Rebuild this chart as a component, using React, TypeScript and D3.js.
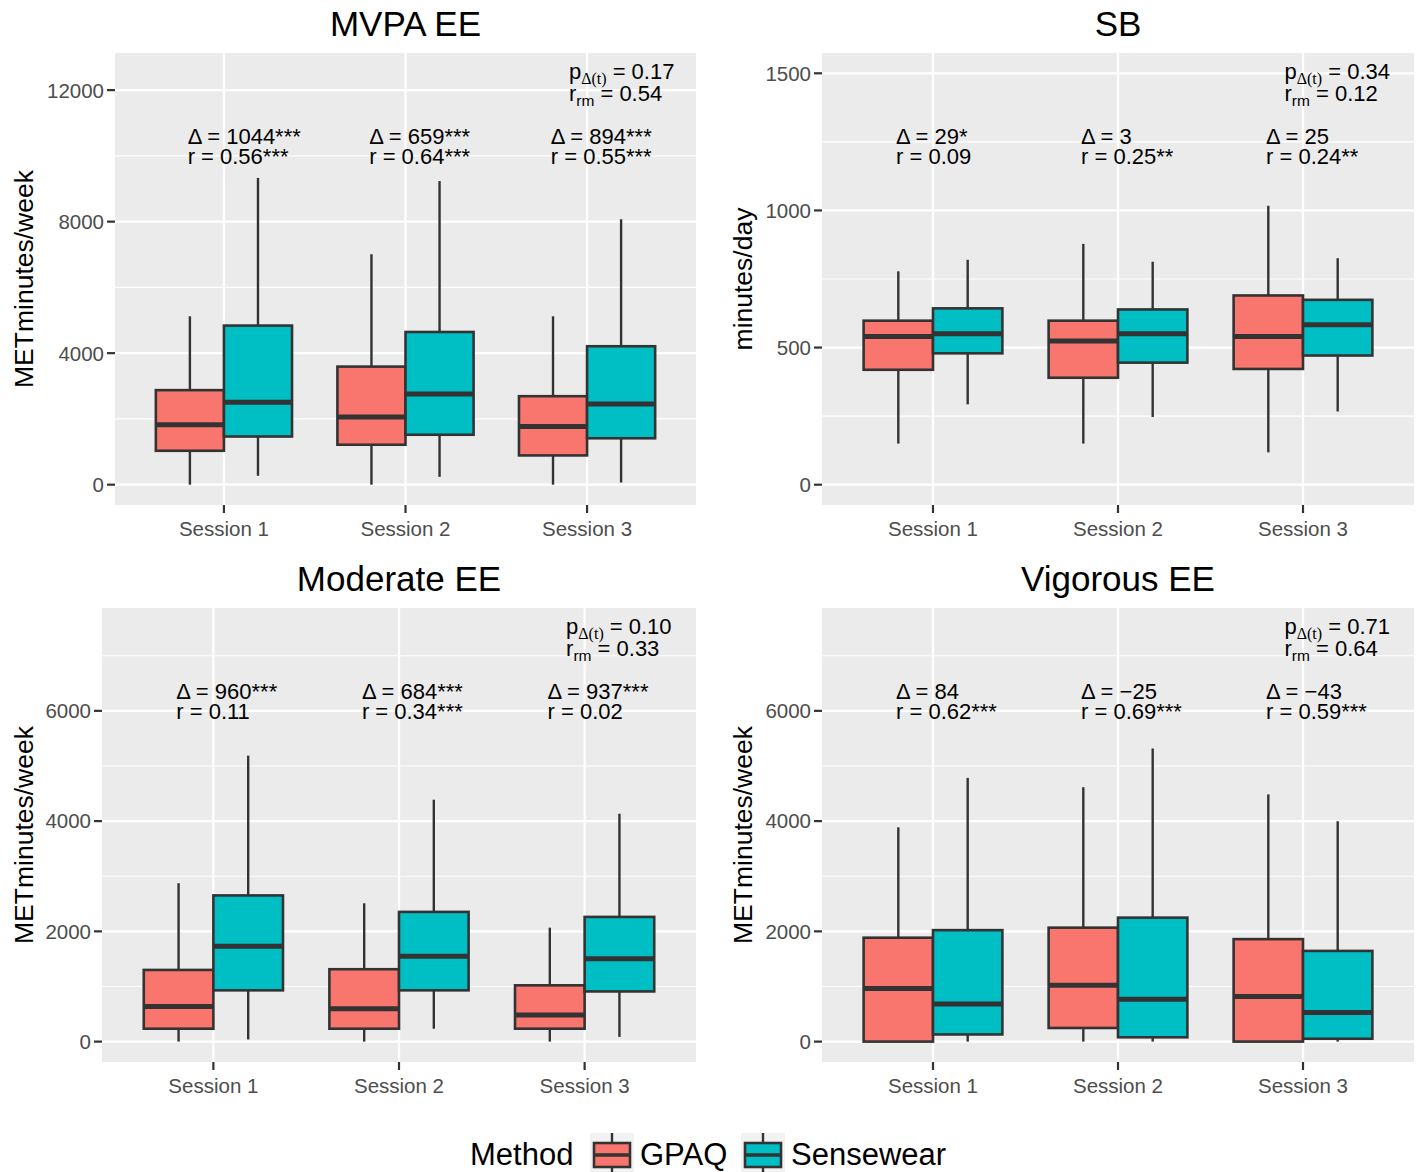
import React from "react";
import * as d3 from "d3";

// ---------- DATA ----------
const sessions = ["Session 1", "Session 2", "Session 3"];
const methods = ["GPAQ", "Sensewear"];
const methodColors = ["#F8766D", "#00BFC4"];

// each entry: [lower whisker, Q1, median, Q3, upper whisker]
const mvpaGPAQ = [[0, 1031, 1823, 2875, 5121], [0, 1215, 2062, 3591, 7009], [0, 890, 1769, 2691, 5121]];
const mvpaSensewear = [[271, 1465, 2506, 4839, 9331], [239, 1519, 2756, 4644, 9233], [65, 1411, 2452, 4210, 8072]];
const sbGPAQ = [[150, 419, 540, 598, 778], [150, 390, 524, 598, 878], [118, 422, 540, 690, 1017]];
const sbSensewear = [[293, 479, 550, 643, 820], [247, 445, 550, 639, 813], [267, 471, 583, 674, 826]];
const moderateGPAQ = [[0, 234, 637, 1300, 2873], [0, 234, 598, 1313, 2509], [0, 234, 481, 1021, 2067]];
const moderateSensewear = [[39, 930, 1729, 2652, 5187], [234, 930, 1547, 2353, 4388], [85, 910, 1502, 2262, 4134]];
const vigorousGPAQ = [[0, 0, 962, 1885, 3887], [0, 247, 1021, 2067, 4615], [0, 0, 819, 1859, 4485]];
const vigorousSensewear = [[0, 130, 683, 2022, 4784], [0, 78, 767, 2249, 5317], [0, 52, 527, 1645, 3998]];

const panelTitles = ["MVPA EE", "SB", "Moderate EE", "Vigorous EE"];
const yAxisTitles = ["METminutes/week", "minutes/day", "METminutes/week", "METminutes/week"];

const mvpaDelta = ["1044***", "659***", "894***"];
const mvpaR = ["0.56***", "0.64***", "0.55***"];
const sbDelta = ["29*", "3", "25"];
const sbR = ["0.09", "0.25**", "0.24**"];
const moderateDelta = ["960***", "684***", "937***"];
const moderateR = ["0.11", "0.34***", "0.02"];
const vigorousDelta = ["84", "\u221225", "\u221243"];
const vigorousR = ["0.62***", "0.69***", "0.59***"];

const pDeltaValues = ["0.17", "0.34", "0.10", "0.71"];
const rrmValues = ["0.54", "0.12", "0.33", "0.64"];

const mvpaTicks = [0, 4000, 8000, 12000];
const mvpaMinor = [2000, 6000, 10000];
const sbTicks = [0, 500, 1000, 1500];
const sbMinor = [250, 750, 1250];
const eeTicks = [0, 2000, 4000, 6000];
const eeMinor = [1000, 3000, 5000, 7000];

const mvpaDomain = [-618, 13129];
const sbDomain = [-74, 1574];
const eeDomain = [-370, 7866];

// ---------- LAYOUT ----------
const W = 1422;
const H = 1172;
const FONT = "'Liberation Sans', Arial, Helvetica, sans-serif";
const SERIF = "'Liberation Serif', 'Times New Roman', serif";
const OUTLINE = "#333333";

const panels = [
  { title: panelTitles[0], yTitle: yAxisTitles[0], series: [mvpaGPAQ, mvpaSensewear], delta: mvpaDelta, r: mvpaR, p: pDeltaValues[0], rrm: rrmValues[0], ticks: mvpaTicks, minor: mvpaMinor, domain: mvpaDomain, box: { left: 115, right: 696, top: 53, bottom: 505, yTitleX: 33 } },
  { title: panelTitles[1], yTitle: yAxisTitles[1], series: [sbGPAQ, sbSensewear], delta: sbDelta, r: sbR, p: pDeltaValues[1], rrm: rrmValues[1], ticks: sbTicks, minor: sbMinor, domain: sbDomain, box: { left: 822, right: 1414, top: 53, bottom: 505, yTitleX: 752 } },
  { title: panelTitles[2], yTitle: yAxisTitles[2], series: [moderateGPAQ, moderateSensewear], delta: moderateDelta, r: moderateR, p: pDeltaValues[2], rrm: rrmValues[2], ticks: eeTicks, minor: eeMinor, domain: eeDomain, box: { left: 102, right: 696, top: 608, bottom: 1062, yTitleX: 33 } },
  { title: panelTitles[3], yTitle: yAxisTitles[3], series: [vigorousGPAQ, vigorousSensewear], delta: vigorousDelta, r: vigorousR, p: pDeltaValues[3], rrm: rrmValues[3], ticks: eeTicks, minor: eeMinor, domain: eeDomain, box: { left: 822, right: 1414, top: 608, bottom: 1062, yTitleX: 752 } },
];

function Panel({ cfg }: { cfg: any }) {
  const { left, right, top, bottom, yTitleX } = cfg.box;
  const x = d3.scaleLinear().domain([0.4, 3.6]).range([left, right]);
  const y = d3.scaleLinear().domain(cfg.domain).range([bottom, top]);
  const bw = 0.375;
  const pos = sessions.map((_, i) => i + 1);
  return (
    <g>
      <rect x={left} y={top} width={right - left} height={bottom - top} fill="#EBEBEB" />
      {cfg.minor.map((t: number) => (
        <line key={"mi" + t} x1={left} x2={right} y1={y(t)} y2={y(t)} stroke="#fff" strokeWidth={1.1} />
      ))}
      {cfg.ticks.map((t: number) => (
        <line key={"ma" + t} x1={left} x2={right} y1={y(t)} y2={y(t)} stroke="#fff" strokeWidth={2.2} />
      ))}
      {pos.map((p) => (
        <line key={"vx" + p} x1={x(p)} x2={x(p)} y1={top} y2={bottom} stroke="#fff" strokeWidth={2.2} />
      ))}
      {cfg.series.map((ser: number[][], m: number) =>
        ser.map((s, i) => {
          const x0 = x(pos[i] - bw + m * bw);
          const x1 = x(pos[i] + m * bw);
          const cx = (x0 + x1) / 2;
          const [lo, q1, med, q3, hi] = s;
          return (
            <g key={m + "-" + i}>
              <line x1={cx} x2={cx} y1={y(q3)} y2={y(hi)} stroke={OUTLINE} strokeWidth={2.4} />
              <line x1={cx} x2={cx} y1={y(q1)} y2={y(lo)} stroke={OUTLINE} strokeWidth={2.4} />
              <rect x={x0} y={y(q3)} width={x1 - x0} height={Math.max(0, y(q1) - y(q3))} fill={methodColors[m]} stroke={OUTLINE} strokeWidth={2.6} />
              <line x1={x0} x2={x1} y1={y(med)} y2={y(med)} stroke={OUTLINE} strokeWidth={5} />
            </g>
          );
        })
      )}
      {/* annotations */}
      {pos.map((p, i) => (
        <g key={"an" + p} fontFamily={FONT} fontSize={22} fill="#000">
          <text x={x(p - 0.2)} y={top + 91}>{"\u0394 = " + cfg.delta[i]}</text>
          <text x={x(p - 0.2)} y={top + 111}>{"r = " + cfg.r[i]}</text>
        </g>
      ))}
      <text x={x(2.9)} y={top + 26} fontFamily={FONT} fontSize={22}>
        <tspan>p</tspan>
        <tspan fontFamily={SERIF} fontSize={16} dy={5}>{"\u0394(t)"}</tspan>
        <tspan dy={-5}>{" = " + cfg.p}</tspan>
      </text>
      <text x={x(2.9)} y={top + 48} fontFamily={FONT} fontSize={22}>
        <tspan>r</tspan>
        <tspan fontSize={15.5} dy={5}>rm</tspan>
        <tspan dy={-5}>{" = " + cfg.rrm}</tspan>
      </text>
      {/* y axis */}
      {cfg.ticks.map((t: number) => (
        <g key={"yt" + t}>
          <line x1={left - 8} x2={left} y1={y(t)} y2={y(t)} stroke={OUTLINE} strokeWidth={2.2} />
          <text x={left - 11} y={y(t)} dy="0.36em" textAnchor="end" fontFamily={FONT} fontSize={20.5} fill="#4D4D4D">{String(t)}</text>
        </g>
      ))}
      {/* x axis */}
      {pos.map((p, i) => (
        <g key={"xt" + p}>
          <line x1={x(p)} x2={x(p)} y1={bottom} y2={bottom + 8} stroke={OUTLINE} strokeWidth={2.2} />
          <text x={x(p)} y={bottom + 31} textAnchor="middle" fontFamily={FONT} fontSize={20.5} fill="#4D4D4D">{sessions[i]}</text>
        </g>
      ))}
      <text x={(left + right) / 2} y={top - 17} textAnchor="middle" fontFamily={FONT} fontSize={35} fill="#000">{cfg.title}</text>
      <text transform={`translate(${yTitleX},${(top + bottom) / 2}) rotate(-90)`} textAnchor="middle" fontFamily={FONT} fontSize={26.5} fill="#000">{cfg.yTitle}</text>
    </g>
  );
}

function Legend() {
  const keys = [
    { bg: 590, text: 640 },
    { bg: 741, text: 791 },
  ];
  const base = 1165;
  return (
    <g fontFamily={FONT}>
      <text x={470} y={base} fontSize={31} fill="#000">Method</text>
      {methods.map((m, i) => {
        const k = keys[i];
        const cx = k.bg + 22;
        return (
          <g key={m}>
            <rect x={k.bg} y={1133} width={44} height={44} fill="#F2F2F2" />
            <line x1={cx} x2={cx} y1={1133} y2={1177} stroke={OUTLINE} strokeWidth={2.4} />
            <rect x={k.bg + 4} y={1143} width={36} height={24} fill={methodColors[i]} stroke={OUTLINE} strokeWidth={2.6} />
            <line x1={k.bg + 4} x2={k.bg + 40} y1={1155} y2={1155} stroke={OUTLINE} strokeWidth={3.5} />
            <text x={k.text} y={base} fontSize={31} fill="#000">{m}</text>
          </g>
        );
      })}
    </g>
  );
}

export default function App() {
  return (
    <svg width={W} height={H} viewBox={`0 0 ${W} ${H}`} style={{ position: "absolute", left: 0, top: 0, background: "#fff" }}>
      <rect width={W} height={H} fill="#fff" />
      {panels.map((p, i) => (
        <Panel key={i} cfg={p} />
      ))}
      <Legend />
    </svg>
  );
}
